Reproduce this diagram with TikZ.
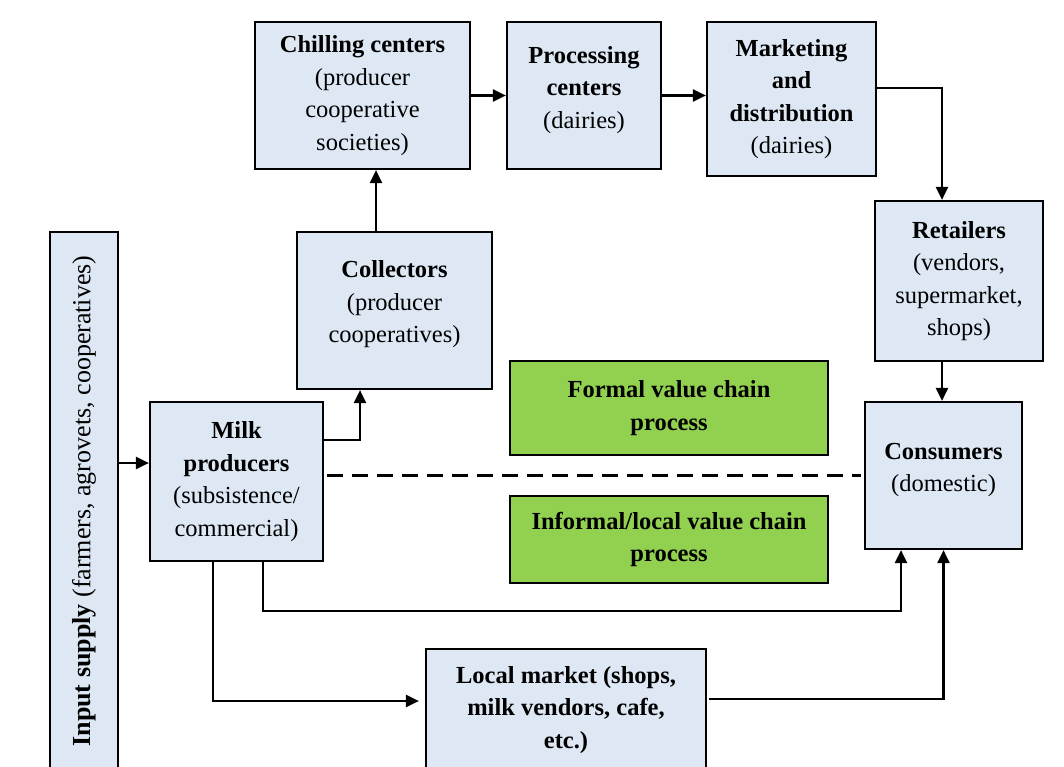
\documentclass[tikz,border=0pt]{standalone}
\usepackage{fontspec}
\setmainfont{Liberation Serif}
\usetikzlibrary{arrows.meta}
\definecolor{boxblue}{HTML}{DEE8F4}
\definecolor{boxgreen}{HTML}{92D050}
\begin{document}
\begin{tikzpicture}[x=1pt,y=-1pt,
  box/.style={draw=black, line width=2.2pt, fill=boxblue, align=center, inner sep=0pt,
    font=\fontsize{24.5}{32.5}\selectfont},
  gbox/.style={box, fill=boxgreen, line width=1.6pt},
  conn/.style={line width=2.2pt, -{Triangle[length=13pt,width=12pt]}},
  dashline/.style={line width=2.2pt, dash pattern=on 16pt off 9pt}]
\clip (0,0) rectangle (1064,767);
\fill[white] (0,0) rectangle (1064,767);

\node[box, rotate=90, minimum width=538, minimum height=68, font=\fontsize{26}{32}\selectfont] (input) at (84,501)
  {\textbf{Input supply} (farmers, agrovets, cooperatives)};
\node[box, minimum width=173, minimum height=159] (milk) at (236.5,481.5)
  {\textbf{Milk}\\\textbf{producers}\\(subsistence/\\commercial)};
\node[box, minimum width=195, minimum height=157, text depth=18pt] (coll) at (394.5,310.5)
  {\textbf{Collectors}\\(producer\\cooperatives)};
\node[box, minimum width=215, minimum height=147] (chill) at (362.5,95.5)
  {\textbf{Chilling centers}\\(producer\\cooperative\\societies)};
\node[box, minimum width=154, minimum height=147, text depth=16pt] (proc) at (584,95.5)
  {\textbf{Processing}\\\textbf{centers}\\(dairies)};
\node[box, minimum width=169, minimum height=154] (mark) at (791.5,99)
  {\textbf{Marketing}\\\textbf{and}\\\textbf{distribution}\\(dairies)};
\node[box, minimum width=168, minimum height=160] (ret) at (959,281)
  {\textbf{Retailers}\\(vendors,\\supermarket,\\shops)};
\node[box, minimum width=157, minimum height=147, text depth=16pt] (cons) at (943.5,475.5)
  {\textbf{Consumers}\\(domestic)};
\node[gbox, minimum width=318, minimum height=94] (formal) at (669,408)
  {\textbf{Formal value chain}\\\textbf{process}};
\node[gbox, minimum width=318, minimum height=87] (informal) at (669,539.5)
  {\textbf{Informal/local value chain}\\\textbf{process}};
\node[box, minimum width=280, minimum height=122] (local) at (566,710)
  {\textbf{Local market (shops,}\\\textbf{milk vendors, cafe,}\\\textbf{etc.)}};

\coordinate (b1) at (0,611);

\draw[conn] ([yshift=18.5pt]milk.west -| input.south) -- ([yshift=18.5pt]milk.west);
\draw[conn] ([yshift=41.5pt]milk.east) -| ([xshift=-34.5pt]coll.south);
\draw[conn] ([xshift=-18.5pt]coll.north) -- ([xshift=-18.5pt]coll.north |- chill.south);
\draw[conn] (chill.east) -- (chill.east -| proc.west);
\draw[conn] (proc.east) -- (proc.east -| mark.west);
\draw[conn] ([yshift=11pt]mark.east) -| ([xshift=-17pt]ret.north);
\draw[conn] ([xshift=-17pt]ret.south) -- ([xshift=-17pt]ret.south |- cons.north);
\draw[dashline] ([xshift=3pt]milk.east |- cons.west) -- ([xshift=-3pt]cons.west);
\draw[conn] ([xshift=26.5pt]milk.south) -- ([xshift=26.5pt]milk.south |- b1) -| ([xshift=-42.5pt]cons.south);
\draw[conn, shorten >=6pt] ([xshift=-23.5pt]milk.south) |- ([yshift=9pt]local.west);
\draw[conn, shorten <=2pt] ([yshift=11pt]local.east) -| (cons.south);
\end{tikzpicture}
\end{document}
